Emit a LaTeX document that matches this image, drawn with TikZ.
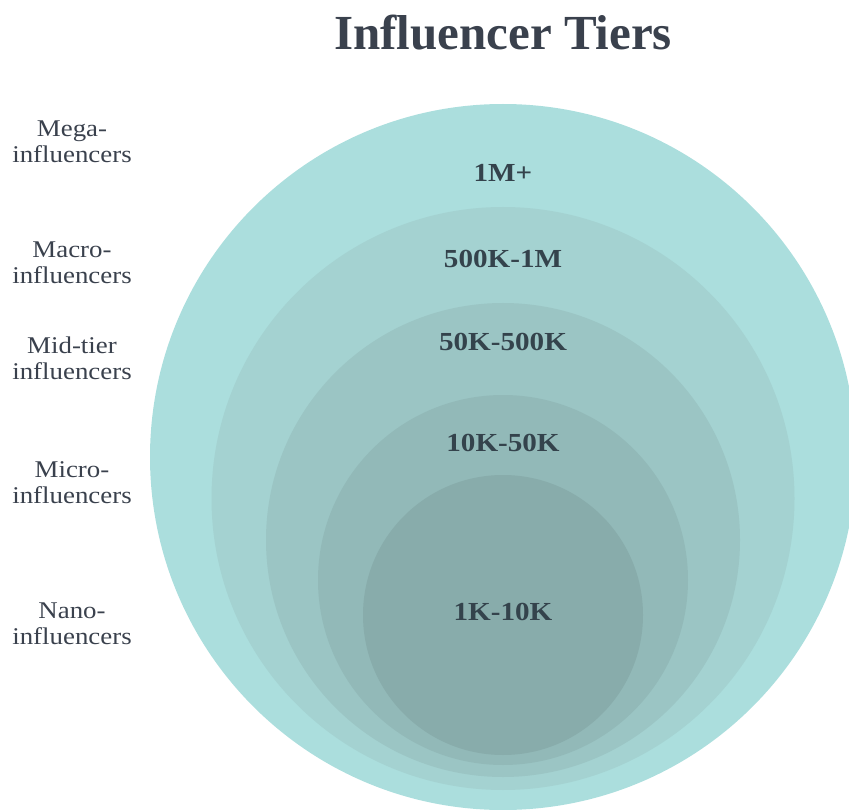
\documentclass[tikz,border=0pt]{standalone}
\usepackage{fontspec}
\setmainfont{Liberation Serif}[FakeStretch=1.12]
\newfontfamily\headfont{Liberation Serif}
\usetikzlibrary{positioning}

\definecolor{ringA}{HTML}{ABDEDD}
\definecolor{ringB}{HTML}{A4D2D1}
\definecolor{ringC}{HTML}{9BC5C4}
\definecolor{ringD}{HTML}{92B9B8}
\definecolor{ringE}{HTML}{88ACAB}
\definecolor{inktext}{HTML}{3A414D}
\definecolor{rangetext}{HTML}{34434C}

\tikzset{
  heading/.style={text=inktext, font=\headfont\bfseries\fontsize{49}{56}\selectfont, anchor=base},
  tier/.style={align=center, text=inktext, font=\fontsize{24}{26}\selectfont, anchor=base},
  followers/.style={text=rangetext, font=\bfseries\fontsize{26}{30}\selectfont, anchor=base},
}

\begin{document}
\begin{tikzpicture}[x=1pt,y=-1pt]
    \useasboundingbox (0,0) rectangle (849,810);

    % Rings, outer first
    \foreach \cy/\r/\col in {457/353/ringA, 498.5/291.5/ringB, 540/237/ringC, 580/185/ringD, 615/140/ringE}
      \fill[\col] (503,\cy) circle[radius=\r pt];

    \node[heading] (title) at (503,50) {Influencer Tiers};

    % Follower ranges
    \node[followers] (mega range)  at (503,182) {1M+};
    \node[followers] (macro range) at (503,268) {500K-1M};
    \node[followers] (mid range)   at (503,351) {50K-500K};
    \node[followers] (micro range) at (503,451) {10K-50K};
    \node[followers] (nano range)  at (503,620) {1K-10K};

    % Tier names (base = last line)
    \node[tier] (mega)  at (72,163) {Mega-\\influencers};
    \node[tier] (macro) at (72,284) {Macro-\\influencers};
    \node[tier] (mid)   at (72,379) {Mid-tier\\influencers};
    \node[tier] (micro) at (72,503) {Micro-\\influencers};
    \node[tier] (nano)  at (72,644) {Nano-\\influencers};
\end{tikzpicture}
\end{document}
